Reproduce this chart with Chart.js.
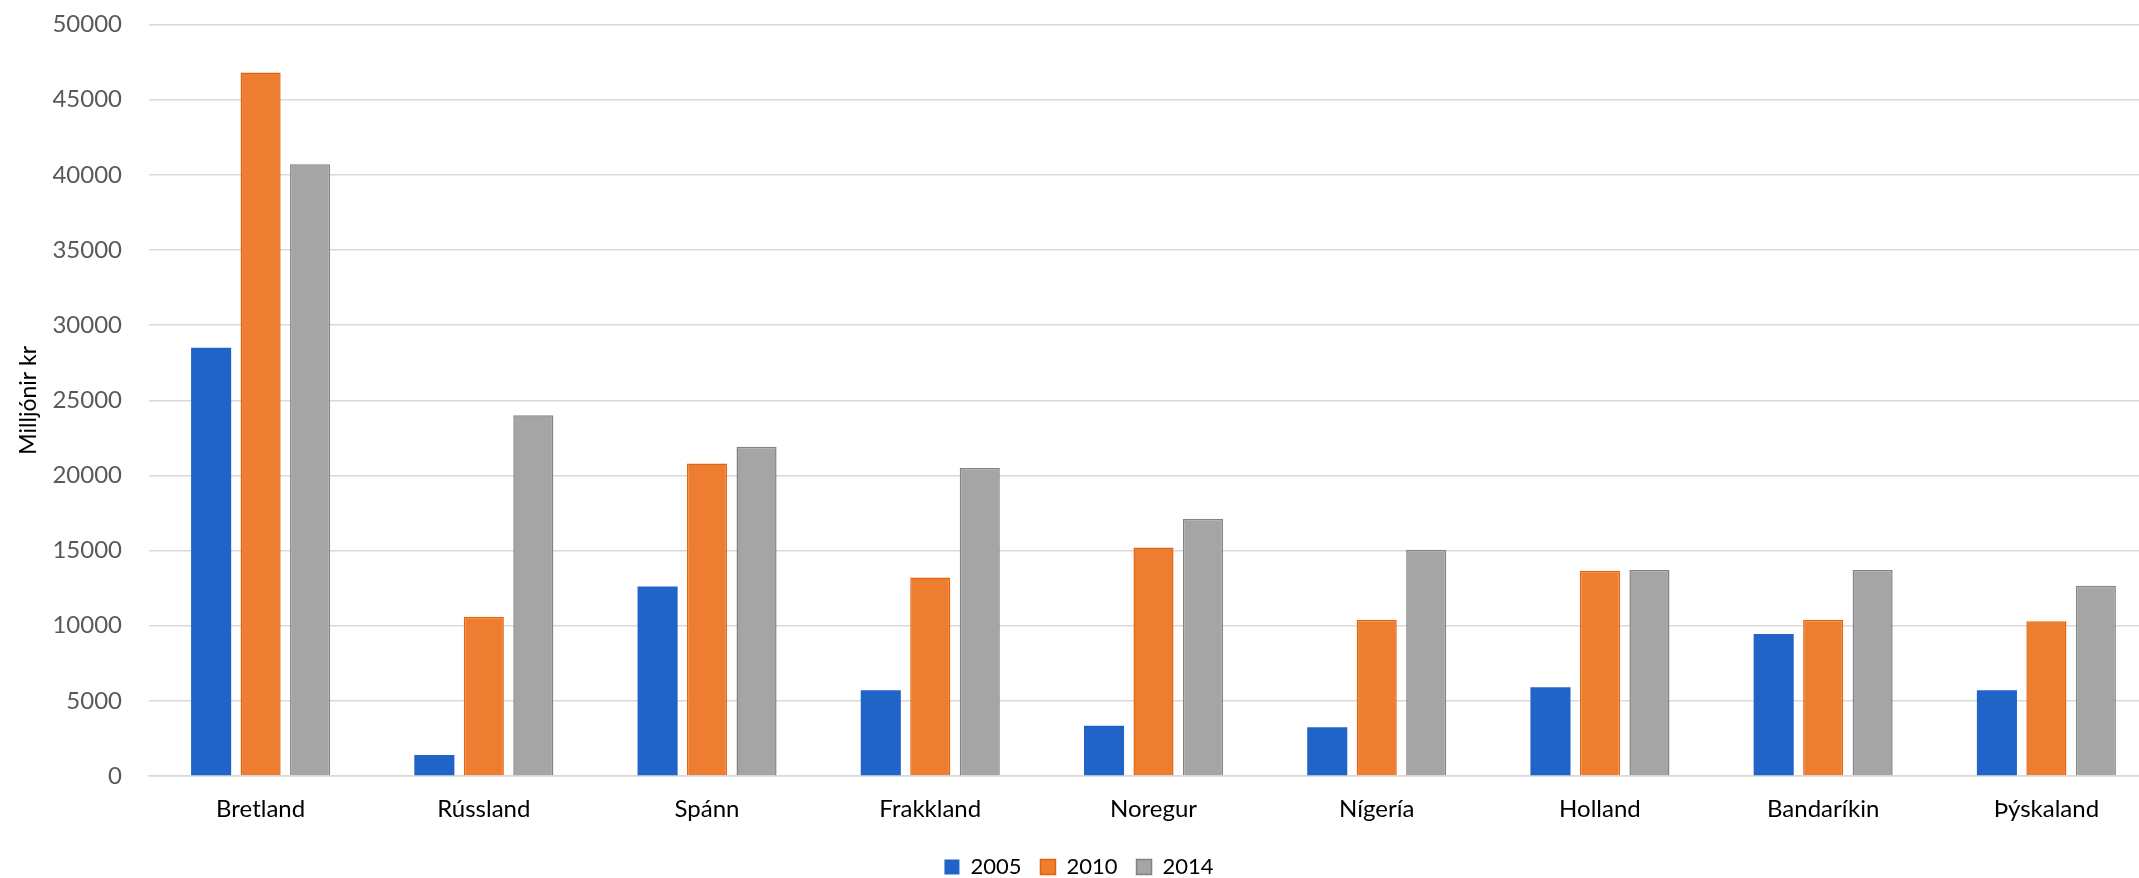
<!DOCTYPE html>
<html>
<head>
<meta charset="utf-8">
<script src="https://cdn.jsdelivr.net/npm/chart.js@4/dist/chart.umd.min.js"></script>
<style>
  html, body { margin: 0; padding: 0; background: #fff; overflow: hidden; }
  #wrap { position: relative; width: 2158px; height: 878px; }
</style>
</head>
<body>
<div id="wrap"><canvas id="chart"></canvas></div>
<script>
// Data (millions of ISK)
const countries = ['Bretland', 'Rússland', 'Spánn', 'Frakkland', 'Noregur', 'Nígería', 'Holland', 'Bandaríkin', 'Þýskaland'];
const years = ['2005', '2010', '2014'];
const values2005 = [28500, 1400, 12600, 5700, 3350, 3250, 5900, 9450, 5700];
const values2010 = [46800, 10600, 20800, 13200, 15200, 10400, 13650, 10400, 10300];
const values2014 = [40700, 24000, 21900, 20500, 17100, 15050, 13700, 13700, 12650];
const yTicks = [0, 5000, 10000, 15000, 20000, 25000, 30000, 35000, 40000, 45000, 50000];

const fillColors = ['#2064C8', '#ED7D31', '#A5A5A5'];
const edgeColors = ['#2064C8', '#E2650E', '#838383'];

const series = [values2005, values2010, values2014];

const ctx = document.getElementById('chart').getContext('2d');
new Chart(ctx, {
    type: 'bar',
    data: {
        labels: countries,
        datasets: series.map((vals, i) => ({
            label: years[i],
            data: vals,
            backgroundColor: fillColors[i],
            borderColor: edgeColors[i],
            borderWidth: i === 0 ? 0 : 1.5,
            categoryPercentage: 0.665,
            barPercentage: 0.81
        }))
    },
    options: {
        responsive: true,
        maintainAspectRatio: false,
        animation: false,
        layout: { padding: { top: 24.5, right: 0, bottom: -10, left: 0 } },
        plugins: {
            tooltip: { enabled: false },
            legend: {
                position: 'bottom',
                labels: {
                    font: { family: 'Lato', size: 22 },
                    color: '#000000',
                    boxWidth: 15,
                    boxHeight: 15,
                    padding: 19
                }
            }
        },
        scales: {
            x: {
                afterFit: (scale) => {
                    // fix the axis band height so the plot bottom lands where Excel's does
                    scale.height = 61;
                },
                grid: { display: false, drawTicks: false },
                border: { display: true, color: '#D9D9D9', width: 1.5 },
                ticks: {
                    font: { family: 'Lato', size: 24, lineHeight: 1.0 },
                    color: '#000000',
                    padding: 21
                }
            },
            y: {
                min: 0,
                max: 50000,
                afterBuildTicks: (scale) => {
                    scale.ticks = yTicks.map(v => ({ value: v }));
                },
                afterFit: (scale) => {
                    scale.width = 149;
                },
                grid: {
                    color: '#D9D9D9',
                    lineWidth: 1.5,
                    drawTicks: true,
                    tickLength: 24,
                    tickColor: 'rgba(0,0,0,0)'
                },
                border: { display: false },
                ticks: {
                    font: { family: 'Lato', size: 24 },
                    color: '#595959',
                    padding: 3,
                    callback: (value) => String(value)
                },
                title: {
                    display: true,
                    text: 'Milljónir kr',
                    font: { family: 'Lato', size: 23 },
                    color: '#000000',
                    padding: { top: 15, bottom: 4 }
                }
            }
        }
    }
});
</script>
</body>
</html>
